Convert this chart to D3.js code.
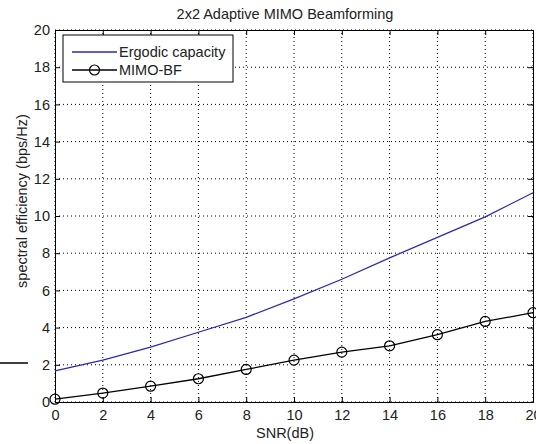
<!DOCTYPE html>
<html>
<head>
<meta charset="utf-8">
<script src="https://cdn.jsdelivr.net/npm/d3@7"></script>
<style>
  body { margin: 0; background: #fff; }
  svg { font-family: "Liberation Sans", Arial, sans-serif; }
</style>
</head>
<body>
<div id="chart"></div>
<script>
const snr = [0, 2, 4, 6, 8, 10, 12, 14, 16, 18, 20];
const ergodic = [1.67, 2.25, 2.95, 3.75, 4.55, 5.55, 6.6, 7.75, 8.85, 9.95, 11.25];
const mimoBF = [0.15, 0.48, 0.85, 1.25, 1.75, 2.25, 2.68, 3.02, 3.62, 4.33, 4.8];
const xTicks = [0, 2, 4, 6, 8, 10, 12, 14, 16, 18, 20];
const yTicks = [0, 2, 4, 6, 8, 10, 12, 14, 16, 18, 20];

const width = 536;
const height = 444;
const margin = {top: 30, right: 3, bottom: 42, left: 55};
const fs = 14.5;
const txt = "#222";

const svg = d3.select("#chart")
  .append("svg")
  .attr("width", width)
  .attr("height", height);

const x = d3.scaleLinear().domain([0, 20]).range([margin.left, width - margin.right]);
const y = d3.scaleLinear().domain([0, 20]).range([height - margin.bottom, margin.top]);

// grid
svg.append("g")
  .selectAll("line")
  .data(xTicks)
  .enter()
  .append("line")
  .attr("x1", d => x(d)).attr("x2", d => x(d))
  .attr("y1", y(0)).attr("y2", y(20))
  .attr("stroke", "#000")
  .attr("stroke-dasharray", "1,3");

svg.append("g")
  .selectAll("line")
  .data(yTicks)
  .enter()
  .append("line")
  .attr("x1", x(0)).attr("x2", x(20))
  .attr("y1", d => y(d)).attr("y2", d => y(d))
  .attr("stroke", "#000")
  .attr("stroke-dasharray", "1,3");

// axes, ticks inward like matlab
svg.append("g")
  .attr("transform", `translate(0,${y(0)})`)
  .call(d3.axisBottom(x).tickValues(xTicks).tickSize(-5).tickPadding(8));
svg.append("g")
  .attr("transform", `translate(${x(0)},0)`)
  .call(d3.axisLeft(y).tickValues(yTicks).tickSize(-5).tickPadding(5));
svg.append("g")
  .attr("transform", `translate(0,${y(20)})`)
  .call(d3.axisTop(x).tickValues(xTicks).tickSize(-5).tickFormat(""));
svg.append("g")
  .attr("transform", `translate(${x(20)},0)`)
  .call(d3.axisRight(y).tickValues(yTicks).tickSize(-5).tickFormat(""));

svg.selectAll(".domain").attr("stroke", "#000");
svg.selectAll(".tick line").attr("stroke", "#000");
svg.selectAll(".tick text")
  .attr("font-size", fs)
  .attr("fill", txt)
  .attr("font-family", "Liberation Sans, Arial, sans-serif");

// lines
const line = d3.line()
  .x(d => x(d[0]))
  .y(d => y(d[1]));

svg.append("path")
  .datum(snr.map((s, i) => [s, ergodic[i]]))
  .attr("d", line)
  .attr("fill", "none")
  .attr("stroke", "#2a2ab0")
  .attr("stroke-width", 1.3);

svg.append("path")
  .datum(snr.map((s, i) => [s, mimoBF[i]]))
  .attr("d", line)
  .attr("fill", "none")
  .attr("stroke", "#000")
  .attr("stroke-width", 1.3);

svg.append("g")
  .selectAll("circle")
  .data(snr.map((s, i) => [s, mimoBF[i]]))
  .enter()
  .append("circle")
  .attr("cx", d => x(d[0]))
  .attr("cy", d => y(d[1]))
  .attr("r", 5)
  .attr("fill", "none")
  .attr("stroke", "#000")
  .attr("stroke-width", 1.2);

// legend
const lg = svg.append("g");
lg.append("rect")
  .attr("x", 63).attr("y", 35)
  .attr("width", 170).attr("height", 47)
  .attr("fill", "#fff")
  .attr("stroke", "#000");
lg.append("line")
  .attr("x1", 72).attr("x2", 117).attr("y1", 52).attr("y2", 52)
  .attr("stroke", "#2a2ab0").attr("stroke-width", 1.3);
lg.append("text")
  .attr("x", 119).attr("y", 57)
  .attr("font-size", fs).attr("fill", txt)
  .text("Ergodic capacity");
lg.append("line")
  .attr("x1", 72).attr("x2", 117).attr("y1", 70).attr("y2", 70)
  .attr("stroke", "#000").attr("stroke-width", 1.3);
lg.append("circle")
  .attr("cx", 94.5).attr("cy", 70).attr("r", 5)
  .attr("fill", "none").attr("stroke", "#000").attr("stroke-width", 1.2);
lg.append("text")
  .attr("x", 119).attr("y", 75)
  .attr("font-size", fs).attr("fill", txt)
  .text("MIMO-BF");

// titles
svg.append("text")
  .attr("x", 285).attr("y", 19)
  .attr("text-anchor", "middle")
  .attr("font-size", fs).attr("fill", txt)
  .text("2x2 Adaptive MIMO Beamforming");

svg.append("text")
  .attr("x", 285).attr("y", 438)
  .attr("text-anchor", "middle")
  .attr("font-size", fs).attr("fill", txt)
  .text("SNR(dB)");

svg.append("text")
  .attr("transform", "translate(27,201) rotate(-90)")
  .attr("text-anchor", "middle")
  .attr("font-size", fs).attr("fill", txt)
  .text("spectral efficiency (bps/Hz)");

// stray mark at left edge of the picture
svg.append("line")
  .attr("x1", 0).attr("x2", 28).attr("y1", 363).attr("y2", 363)
  .attr("stroke", "#000").attr("stroke-width", 1.5);
</script>
</body>
</html>
